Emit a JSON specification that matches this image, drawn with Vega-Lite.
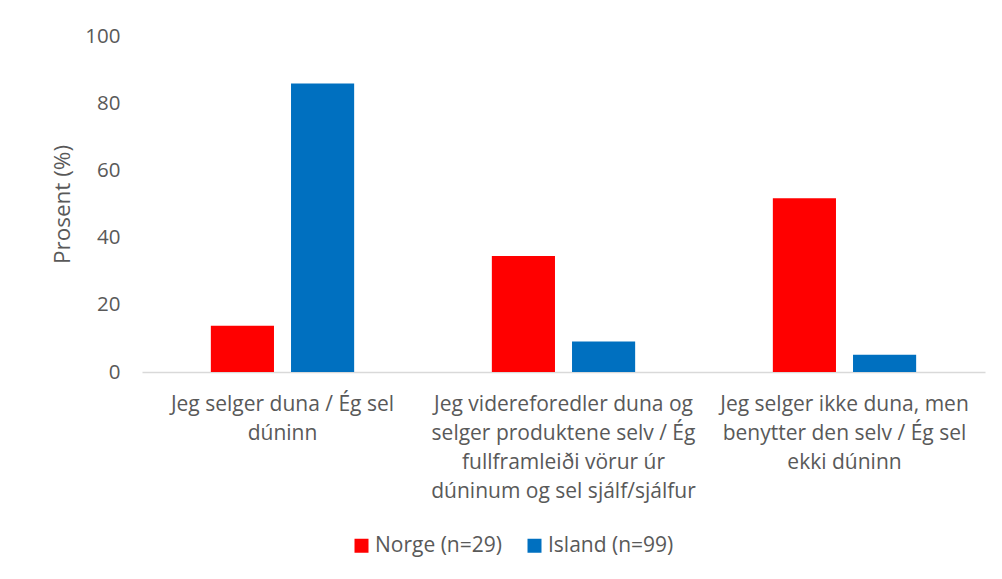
{
  "$schema": "https://vega.github.io/schema/vega-lite/v6.json",
  "width": 843,
  "height": 336,
  "autosize": {"type": "none"},
  "padding": {"left": 142, "top": 36, "right": 17, "bottom": 207},
  "background": "#ffffff",
  "config": {
    "view": {"stroke": null},
    "font": "Open Sans",
    "axis": {"labelColor": "#595959", "titleColor": "#595959", "labelFont": "Open Sans", "titleFont": "Open Sans"}
  },
  "data": {
    "values": [
      {"kategori": "Jeg selger duna / Ég sel\ndúninn", "land": "Norge (n=29)", "prosent": 13.8},
      {"kategori": "Jeg selger duna / Ég sel\ndúninn", "land": "Island (n=99)", "prosent": 85.9},
      {"kategori": "Jeg videreforedler duna og\nselger produktene selv / Ég\nfullframleiði vörur úr\ndúninum og sel sjálf/sjálfur", "land": "Norge (n=29)", "prosent": 34.5},
      {"kategori": "Jeg videreforedler duna og\nselger produktene selv / Ég\nfullframleiði vörur úr\ndúninum og sel sjálf/sjálfur", "land": "Island (n=99)", "prosent": 9.1},
      {"kategori": "Jeg selger ikke duna, men\nbenytter den selv / Ég sel\nekki dúninn", "land": "Norge (n=29)", "prosent": 51.7},
      {"kategori": "Jeg selger ikke duna, men\nbenytter den selv / Ég sel\nekki dúninn", "land": "Island (n=99)", "prosent": 5.1}
    ]
  },
  "mark": {"type": "bar"},
  "encoding": {
    "x": {
      "field": "kategori",
      "type": "nominal",
      "sort": null,
      "scale": {"paddingInner": 0.49, "paddingOuter": 0.245},
      "axis": {
        "title": null,
        "labelAngle": 0,
        "labelExpr": "split(datum.value, '\\n')",
        "labelFontSize": 21,
        "labelLineHeight": 29,
        "labelPadding": 21,
        "labelBaseline": "top",
        "ticks": false,
        "tickSize": 0,
        "domainColor": "#D9D9D9",
        "domainWidth": 1.5,
        "labelLimit": 400
      }
    },
    "xOffset": {
      "field": "land",
      "type": "nominal",
      "sort": ["Norge (n=29)", "Island (n=99)"],
      "scale": {"paddingInner": 0.2125, "paddingOuter": 0}
    },
    "y": {
      "field": "prosent",
      "type": "quantitative",
      "scale": {"domain": [0, 100]},
      "axis": {
        "title": "Prosent (%)",
        "titleFontSize": 22.5,
        "titleFontWeight": "normal",
        "titlePadding": 10,
        "values": [0, 20, 40, 60, 80, 100],
        "labelFontSize": 20.5,
        "labelPadding": 22,
        "ticks": false,
        "tickSize": 0,
        "domain": false,
        "grid": false
      }
    },
    "color": {
      "field": "land",
      "type": "nominal",
      "sort": ["Norge (n=29)", "Island (n=99)"],
      "scale": {"domain": ["Norge (n=29)", "Island (n=99)"], "range": ["#FF0000", "#0070C0"]},
      "legend": {
        "title": null,
        "orient": "none",
        "direction": "horizontal",
        "legendX": 209,
        "legendY": 499,
        "symbolType": "square",
        "symbolSize": 196,
        "symbolStrokeWidth": 0,
        "labelFontSize": 21,
        "labelColor": "#595959",
        "labelOffset": 3,
        "columnPadding": 22,
        "labelLimit": 300
      }
    }
  }
}
